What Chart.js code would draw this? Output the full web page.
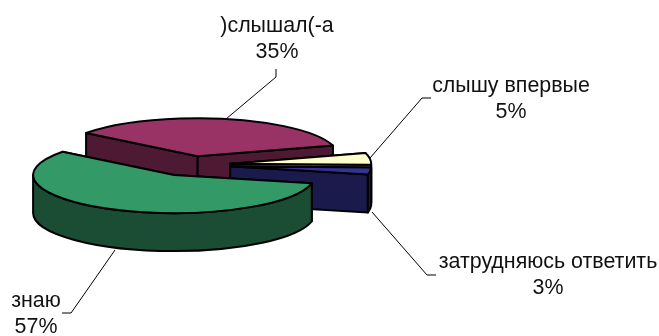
<!DOCTYPE html>
<html>
<head>
<meta charset="utf-8">
<style>
  html, body { margin: 0; padding: 0; background: #fff; }
  canvas { display: block; }
</style>
<script src="https://cdn.jsdelivr.net/npm/chart.js@4/dist/chart.umd.min.js"></script>
</head>
<body>
<canvas id="pieChart" width="659" height="336"></canvas>
<script>
const categories = ['знаю', ')слышал(-а', 'слышу впервые', 'затрудняюсь ответить'];
const shares = [57, 35, 5, 3];
const topColors = ['#339966', '#993366', '#FFFFCC', '#333399'];
const sideColors = ['#1A4D33', '#4D1933', '#80804D', '#1A1A4D'];

// 3D look: tilt of the disc, wall height and how far each slice is pulled out
const TILT = 0.27;
const DEPTH = 38;
const explode = [41, 33, 39, 39];
const OUTLINE = 2;

// back slices first so the green one ends up in front
const drawOrder = [1, 2, 3, 0];

// where the labels sit: text centre, first baseline, then the leader line
const labelSpots = [
    { x: 36, y: 307, leader: [[115, 250], [71, 313], [62, 313]] },
    { x: 277, y: 32, leader: [[226, 119], [276, 77], [276, 69]] },
    { x: 511, y: 92, leader: [[370, 158], [422, 98], [431, 98]] },
    { x: 548, y: 268, leader: [[372, 212], [427, 275], [436, 275]] }
];

function drawSlice(ctx, arc, area, index) {
    const p = arc.getProps(['x', 'y', 'startAngle', 'endAngle', 'outerRadius']);
    const mid = (p.startAngle + p.endAngle) / 2;
    const cx = p.x + Math.cos(mid) * explode[index];
    const cy = p.y + Math.sin(mid) * explode[index] * TILT;
    const rx = p.outerRadius;
    const ry = rx * TILT;
    const edge = a => [cx + Math.cos(a) * rx, cy + Math.sin(a) * ry];

    ctx.save();
    ctx.lineWidth = OUTLINE;
    ctx.lineJoin = 'round';
    ctx.strokeStyle = '#000';
    ctx.fillStyle = sideColors[index];

    // cut faces
    [p.startAngle, p.endAngle].forEach(a => {
        const [ex, ey] = edge(a);
        ctx.beginPath();
        ctx.moveTo(cx, cy);
        ctx.lineTo(ex, ey);
        ctx.lineTo(ex, ey + DEPTH);
        ctx.lineTo(cx, cy + DEPTH);
        ctx.closePath();
        ctx.fill();
        ctx.stroke();
    });

    // outer wall, only the front half of the disc shows
    [0, Math.PI * 2].forEach(base => {
        const from = Math.max(p.startAngle, base);
        const to = Math.min(p.endAngle, base + Math.PI);
        if (to <= from) return;
        ctx.beginPath();
        ctx.ellipse(cx, cy, rx, ry, 0, from, to);
        ctx.ellipse(cx, cy + DEPTH, rx, ry, 0, to, from, true);
        ctx.closePath();
        ctx.fill();
        ctx.stroke();
    });

    // top face is the library's own arc, squashed
    ctx.save();
    ctx.translate(cx, cy);
    ctx.scale(1, TILT);
    ctx.translate(-p.x, -p.y);
    arc.draw(ctx, area);
    ctx.restore();

    ctx.beginPath();
    ctx.moveTo(cx, cy);
    ctx.ellipse(cx, cy, rx, ry, 0, p.startAngle, p.endAngle);
    ctx.closePath();
    ctx.stroke();
    ctx.restore();
}

const pie3d = {
    id: 'pie3d',
    beforeDatasetDraw(chart) {
        const ctx = chart.ctx;
        const arcs = chart.getDatasetMeta(0).data;

        ctx.save();
        ctx.strokeStyle = '#000';
        ctx.lineWidth = 1;
        labelSpots.forEach(spot => {
            ctx.beginPath();
            spot.leader.forEach(([x, y], i) => (i ? ctx.lineTo(x, y) : ctx.moveTo(x, y)));
            ctx.stroke();
        });
        ctx.restore();

        drawOrder.forEach(i => drawSlice(ctx, arcs[i], chart.chartArea, i));
        return false;
    },
    afterDraw(chart) {
        const ctx = chart.ctx;
        ctx.save();
        ctx.fillStyle = '#111';
        ctx.font = '21.4px "Liberation Sans"';
        ctx.textAlign = 'center';
        ctx.textBaseline = 'alphabetic';
        labelSpots.forEach((spot, i) => {
            ctx.fillText(categories[i], spot.x, spot.y);
            ctx.fillText(shares[i] + '%', spot.x, spot.y + 26);
        });
        ctx.restore();
    }
};

new Chart(document.getElementById('pieChart'), {
    type: 'pie',
    data: {
        labels: categories,
        datasets: [{
            data: shares,
            backgroundColor: topColors,
            borderWidth: 0
        }]
    },
    options: {
        responsive: false,
        animation: false,
        rotation: 102.5,
        radius: 141,
        layout: { padding: { right: 276, bottom: 6 } },
        plugins: { legend: { display: false }, tooltip: { enabled: false } },
        events: []
    },
    plugins: [pie3d]
});
</script>
</body>
</html>
